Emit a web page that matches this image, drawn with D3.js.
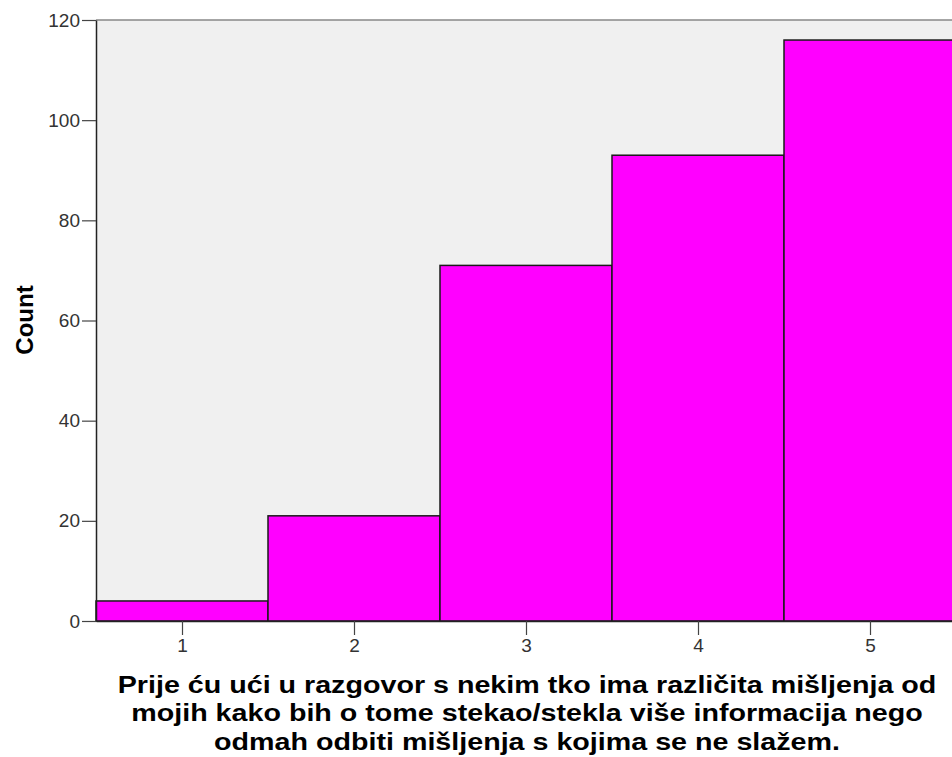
<!DOCTYPE html>
<html><head><meta charset="utf-8">
<script src="https://cdn.jsdelivr.net/npm/d3@7"></script>
<style>body{margin:0;background:#fff;}svg{display:block;font-family:"Liberation Sans",Arial,sans-serif;}</style>
</head><body>
<svg id="c" width="952" height="757"></svg>
<script>
const categories = [1, 2, 3, 4, 5];
const counts = [4, 21, 71, 93, 116];
const yTicks = [0, 20, 40, 60, 80, 100, 120];
const titleLines = [
  "Prije ću ući u razgovor s nekim tko ima različita mišljenja od",
  "mojih kako bih o tome stekao/stekla više informacija nego",
  "odmah odbiti mišljenja s kojima se ne slažem."
];
const yLabel = "Count";

const svg = d3.select("#c");
const L = 96, T = 20, B = 621, R = 956;
const x = d3.scaleLinear().domain([0.5, 5.5]).range([L, R]);
const y = d3.scaleLinear().domain([0, 120]).range([B, T]);

svg.append("rect").attr("x", L).attr("y", T).attr("width", R - L).attr("height", B - T).attr("fill", "#f0f0f0");
svg.append("line").attr("x1", L).attr("x2", R).attr("y1", T).attr("y2", T).attr("stroke", "#888").attr("stroke-width", 1.5);

svg.append("g").selectAll("rect").data(categories).join("rect")
  .attr("x", d => x(d - 0.5))
  .attr("width", d => x(d + 0.5) - x(d - 0.5))
  .attr("y", (d, i) => y(counts[i]))
  .attr("height", (d, i) => y(0) - y(counts[i]))
  .attr("fill", "#ff00ff").attr("stroke", "#1a1a1a").attr("stroke-width", 1.5);

const ya = svg.append("g").attr("transform", `translate(${L},0)`)
  .call(d3.axisLeft(y).tickValues(yTicks).tickSize(14).tickPadding(2).tickSizeOuter(0));
ya.select(".domain").attr("stroke", "#222").attr("stroke-width", 1.5);
ya.selectAll(".tick line").attr("stroke", "#444").attr("stroke-width", 1.2);
ya.selectAll("text").attr("font-size", 19).attr("fill", "#333").attr("font-family", "Liberation Sans, Arial, sans-serif");

const xa = svg.append("g").attr("transform", `translate(0,${B})`)
  .call(d3.axisBottom(x).tickValues(categories).tickFormat(d3.format("d")).tickSize(14).tickPadding(4).tickSizeOuter(0));
xa.select(".domain").attr("stroke", "#222").attr("stroke-width", 1.5);
xa.selectAll(".tick line").attr("stroke", "#444").attr("stroke-width", 1.2);
xa.selectAll("text").attr("font-size", 19).attr("fill", "#333").attr("font-family", "Liberation Sans, Arial, sans-serif");

svg.append("text").attr("transform", "translate(33,320) rotate(-90)")
  .attr("text-anchor", "middle").attr("font-weight", "bold").attr("font-size", 24).attr("fill", "#000").text(yLabel);

const sx = 1.17;
svg.append("g").attr("transform", `translate(527,0) scale(${sx},1)`)
  .selectAll("text").data(titleLines).join("text")
  .attr("x", 0).attr("y", (d, i) => 693 + i * 28.5)
  .attr("text-anchor", "middle").attr("font-weight", "bold").attr("font-size", 24.5).attr("fill", "#000")
  .text(d => d);
</script>
</body></html>
